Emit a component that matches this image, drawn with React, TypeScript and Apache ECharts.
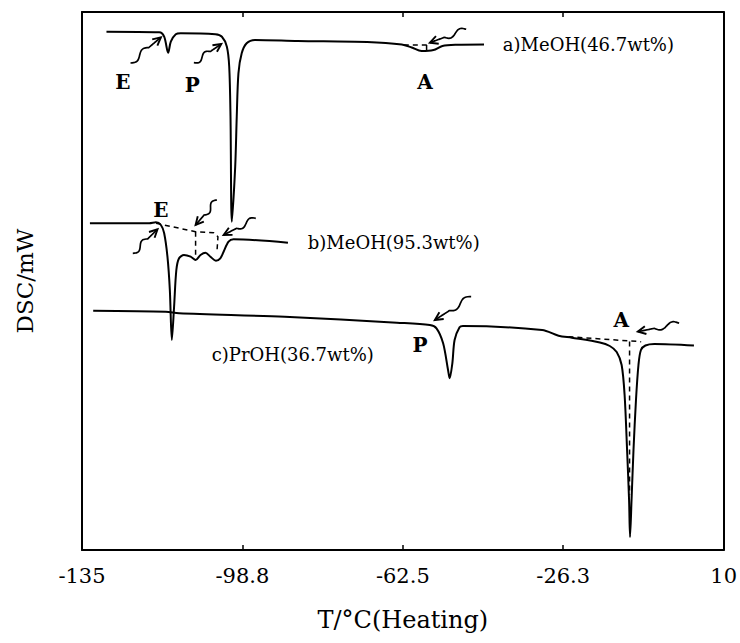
import React, { useEffect, useRef } from "react";
import * as echarts from "echarts";

// Temperature axis (°C) and tick labels
const T_MIN = -135;
const T_MAX = 10;
const T_STEP = 36.25;
const tickLabels = ["-135", "-98.8", "-62.5", "-26.3", "10"];
const DSC_MIN = 0;
const DSC_MAX = 53.8;

// DSC traces: [T (°C), DSC (arb. mW)]
const curveA: [number, number][] = [
  [-129.47, 51.83], [-117.55, 51.77], [-116.43, 51.33], [-115.53, 49.73], [-114.93, 50.83],
  [-113.81, 51.57], [-112.69, 51.67], [-104.86, 51.57], [-103.38, 51.33], [-102.26, 50.33],
  [-101.73, 48.33], [-101.44, 43.33], [-101.14, 32.83], [-100.38, 38.33], [-100.03, 43.33],
  [-99.65, 47.67], [-98.91, 49.67], [-97.79, 50.67], [-95.91, 51.0], [-86.22, 50.9],
  [-70.56, 50.8], [-62.73, 50.55], [-60.49, 50.25], [-58.25, 49.9], [-55.57, 50.0],
  [-53.55, 50.4], [-50.42, 50.52], [-44.15, 50.55],
];
const curveB: [number, number][] = [
  [-133.21, 32.67], [-119.78, 32.67], [-118.29, 32.77], [-117.17, 32.5], [-116.43, 31.67],
  [-115.69, 29.33], [-115.15, 26.0], [-114.7, 21.0], [-114.19, 24.33], [-113.68, 28.0],
  [-113.07, 29.17], [-111.95, 29.5], [-110.45, 29.33], [-109.33, 29.0], [-108.22, 29.5],
  [-107.1, 29.73], [-105.98, 29.33], [-104.73, 28.93], [-103.74, 29.17], [-103.0, 29.83],
  [-101.88, 30.83], [-100.76, 31.07], [-88.46, 30.73],
];
const curveC: [number, number][] = [
  [-132.47, 23.93], [-116.05, 23.83], [-113.07, 23.67], [-89.2, 23.33], [-63.84, 22.73],
  [-56.39, 22.5], [-54.89, 22.17], [-53.39, 20.67], [-52.28, 18.0], [-51.92, 17.17],
  [-51.31, 18.67], [-50.8, 21.0], [-49.68, 22.27], [-48.92, 22.4], [-31.02, 22.0],
  [-27.3, 21.43], [-24.31, 21.23], [-17.97, 20.75], [-15.73, 20.4], [-14.17, 19.8],
  [-13.05, 18.5], [-12.38, 15.5], [-11.82, 10.0], [-11.37, 5.0], [-11.15, 1.3],
  [-10.81, 5.0], [-10.37, 10.0], [-9.81, 15.0], [-9.25, 18.5], [-8.69, 20.0],
  [-7.68, 20.45], [-5.66, 20.6], [3.29, 20.45],
];

// Dashed construction lines
const dashedA1: [number, number][] = [[-62.28, 50.5], [-56.68, 50.5]];
const dashedA2: [number, number][] = [[-57.13, 50.5], [-57.13, 49.9]];
const dashedB1: [number, number][] = [
  [-118.26, 32.67], [-109.33, 31.83], [-105.24, 31.73], [-104.28, 31.33], [-104.5, 29.83],
];
const dashedB2: [number, number][] = [[-109.33, 31.83], [-109.33, 29.2]];
const dashedC1: [number, number][] = [[-25.07, 21.33], [-8.64, 20.83]];
const dashedC2: [number, number][] = [[-11.26, 20.85], [-11.26, 5.5]];

// Arrows: [tailT, tailY, headT, headY]
const arrows: [number, number, number, number][] = [
  [-124.04, 48.7, -117.17, 51.27],
  [-109.72, 48.73, -103.52, 50.6],
  [-48.18, 52.07, -56.39, 50.73],
  [-123.52, 29.67, -117.93, 32.07],
  [-104.5, 35.0, -109.33, 32.5],
  [-95.73, 33.17, -103.0, 31.5],
  [-47.06, 25.33, -55.27, 23.0],
  [-0.07, 22.67, -9.4, 21.83],
];

// Peak labels
const peakLabelText = ["E", "P", "A", "E", "P", "A"];
const peakLabelT = [-125.76, -110.1, -57.51, -117.17, -58.63, -13.12];
const peakLabelY = [46.83, 46.5, 46.83, 34.0, 20.5, 23.0];

// Trace names
const traceNames = ["a)MeOH(46.7wt%)", "b)MeOH(95.3wt%)", "c)PrOH(36.7wt%)"];
const traceNameT = [-39.9, -83.98, -105.69];
const traceNameY = [50.6, 30.73, 19.6];

const FONT = "'DejaVu Serif', 'Liberation Serif', serif";
const shift = (pts: [number, number][]) => pts.map(([t, y]) => [t - T_MIN, y]);

export default function App() {
  const ref = useRef<HTMLDivElement>(null);
  useEffect(() => {
    if (!ref.current) return;
    const chart = echarts.init(ref.current, null, { renderer: "svg" });

    const lineSeries = (pts: [number, number][], dashed = false) => ({
      type: "line",
      data: shift(pts),
      symbol: "none",
      showSymbol: false,
      smooth: dashed ? false : 0.3,
      lineStyle: { color: "#000", width: dashed ? 1.5 : 2, type: dashed ? [5, 4] : "solid" },
      silent: true,
      z: dashed ? 3 : 4,
    });

    const option: any = {
      animation: false,
      backgroundColor: "#fff",
      grid: { left: 82, right: 10, top: 12, bottom: 93, containLabel: false },
      xAxis: [
        {
          type: "value",
          min: 0,
          max: T_MAX - T_MIN,
          interval: T_STEP,
          name: "T/\u00b0C(Heating)",
          nameLocation: "middle",
          nameGap: 58,
          nameTextStyle: { fontFamily: FONT, fontSize: 24, color: "#000" },
          axisLine: { onZero: false, lineStyle: { color: "#000", width: 2 } },
          axisTick: { inside: true, length: 5, lineStyle: { color: "#000", width: 1.5 } },
          splitLine: { show: false },
          axisLabel: {
            margin: 15,
            fontFamily: FONT,
            fontSize: 21,
            color: "#000",
            formatter: (v: number) => {
              const i = Math.round(v / T_STEP);
              return tickLabels[i] ?? "";
            },
          },
        },
        {
          type: "value",
          position: "top",
          min: 0,
          max: T_MAX - T_MIN,
          interval: T_STEP,
          axisLine: { show: true, onZero: false, lineStyle: { color: "#000", width: 2 } },
          axisTick: { show: true, inside: true, length: 5, lineStyle: { color: "#000", width: 1.5 } },
          axisLabel: { show: false },
          splitLine: { show: false },
        },
      ],
      yAxis: [
        {
          type: "value",
          min: DSC_MIN,
          max: DSC_MAX,
          name: "DSC/mW",
          nameLocation: "middle",
          nameGap: 46,
          nameTextStyle: { fontFamily: FONT, fontSize: 23, color: "#000" },
          axisLine: { show: true, onZero: false, lineStyle: { color: "#000", width: 2 } },
          axisTick: { show: false },
          axisLabel: { show: false },
          splitLine: { show: false },
        },
        {
          type: "value",
          position: "right",
          min: DSC_MIN,
          max: DSC_MAX,
          axisLine: { show: true, onZero: false, lineStyle: { color: "#000", width: 2 } },
          axisTick: { show: false },
          axisLabel: { show: false },
          splitLine: { show: false },
        },
      ],
      series: [
        lineSeries(curveA),
        lineSeries(curveB),
        lineSeries(curveC),
        lineSeries(dashedA1, true),
        lineSeries(dashedA2, true),
        lineSeries(dashedB1, true),
        lineSeries(dashedB2, true),
        lineSeries(dashedC1, true),
        lineSeries(dashedC2, true),
        {
          type: "custom",
          silent: true,
          clip: false,
          z: 5,
          encode: { x: [0, 2], y: [1, 3] },
          data: arrows.map(([a, b, c, d]) => [a - T_MIN, b, c - T_MIN, d]),
          renderItem: (_params: any, api: any) => {
            const tail = api.coord([api.value(0), api.value(1)]);
            const head = api.coord([api.value(2), api.value(3)]);
            const dx = head[0] - tail[0];
            const dy = head[1] - tail[1];
            const len = Math.hypot(dx, dy) || 1;
            const ux = dx / len;
            const uy = dy / len;
            const px = -uy;
            const py = ux;
            const pts: number[][] = [];
            const N = 30;
            for (let i = 0; i <= N; i++) {
              const t = i / N;
              const amp = t < 0.6 ? 2.8 * Math.sin((t / 0.6) * 2 * Math.PI) : 0;
              pts.push([tail[0] + dx * t + px * amp, tail[1] + dy * t + py * amp]);
            }
            const ah = 8;
            const aw = 4;
            const bx = head[0] - ux * ah;
            const by = head[1] - uy * ah;
            return {
              type: "group",
              children: [
                {
                  type: "polyline",
                  shape: { points: pts, smooth: 0.3 },
                  style: { stroke: "#000", lineWidth: 1.7, fill: "none" },
                },
                {
                  type: "polyline",
                  shape: { points: [[bx + px * aw, by + py * aw], head, [bx - px * aw, by - py * aw]] },
                  style: { stroke: "#000", lineWidth: 1.9, fill: "none" },
                },
              ],
            };
          },
        },
        {
          type: "custom",
          silent: true,
          clip: false,
          z: 6,
          data: peakLabelT.map((t, i) => [t - T_MIN, peakLabelY[i]]),
          renderItem: (params: any, api: any) => {
            const p = api.coord([api.value(0), api.value(1)]);
            return {
              type: "text",
              x: p[0],
              y: p[1],
              style: {
                text: peakLabelText[params.dataIndex],
                fontFamily: FONT,
                fontSize: 20,
                fontWeight: "bold",
                fill: "#000",
                align: "center",
                verticalAlign: "middle",
              },
            };
          },
        },
        {
          type: "custom",
          silent: true,
          clip: false,
          z: 6,
          data: traceNameT.map((t, i) => [t - T_MIN, traceNameY[i]]),
          renderItem: (params: any, api: any) => {
            const p = api.coord([api.value(0), api.value(1)]);
            return {
              type: "text",
              x: p[0],
              y: p[1],
              style: {
                text: traceNames[params.dataIndex],
                fontFamily: FONT,
                fontSize: 18,
                fill: "#000",
                align: "left",
                verticalAlign: "middle",
              },
            };
          },
        },
      ],
    };
    chart.setOption(option);
    return () => chart.dispose();
  }, []);

  return (
    <div
      ref={ref}
      style={{ position: "fixed", left: 0, top: 0, width: 740, height: 643, background: "#fff" }}
    />
  );
}
